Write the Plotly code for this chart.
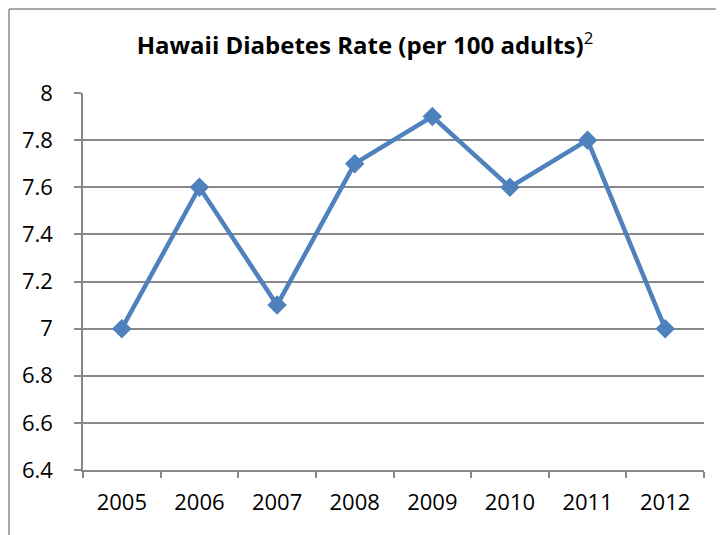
import plotly.graph_objects as go

years = ["2005", "2006", "2007", "2008", "2009", "2010", "2011", "2012"]
rates = [7.0, 7.6, 7.1, 7.7, 7.9, 7.6, 7.8, 7.0]
y_ticks = [6.4, 6.6, 6.8, 7.0, 7.2, 7.4, 7.6, 7.8, 8.0]
y_tick_labels = ["6.4", "6.6", "6.8", "7", "7.2", "7.4", "7.6", "7.8", "8"]

# page body has an 8px margin; compensate so the screenshot matches
OFF = 8
W, H = 724 - OFF, 535 - OFF
L, R, T, B = 83 - OFF, 20, 93 - OFF, 65
pw, ph = W - L - R, H - T - B

def px_x(x):
    return (x - OFF - L) / pw

def px_y(y):
    return (H - B - (y - OFF)) / ph

FONT = "Open Sans, Liberation Sans, Arial, sans-serif"
BLUE = "#4F81BD"
GRID = "#888888"

fig = go.Figure()
fig.add_trace(go.Scatter(
    x=years, y=rates, mode="lines+markers",
    line=dict(color=BLUE, width=4.5),
    marker=dict(symbol="diamond", size=15, color=BLUE),
    showlegend=False, hoverinfo="x+y",
))

fig.update_layout(
    width=W, height=H,
    margin=dict(l=L, r=R, t=T, b=B),
    paper_bgcolor="white", plot_bgcolor="white",
    font=dict(family=FONT, size=22, color="black"),
    title=dict(
        text="<b>Hawaii Diabetes Rate (per 100 adults)</b><sup>2</sup>",
        x=(365 - OFF) / W, xanchor="center", y=1 - (46 - OFF) / H, yanchor="middle",
        font=dict(family=FONT, size=24, color="black"),
    ),
    xaxis=dict(
        type="category", range=[-0.5, 7.5], tickson="boundaries",
        ticks="outside", ticklen=6, tickcolor=GRID, tickwidth=1.5,
        showline=True, linecolor=GRID, linewidth=1.5,
        showgrid=False, zeroline=False, ticklabelstandoff=12,
        tickfont=dict(size=22),
    ),
    yaxis=dict(
        range=[6.4, 8.0], tickvals=y_ticks, ticktext=y_tick_labels,
        ticks="outside", ticklen=7, tickcolor=GRID, tickwidth=1.5,
        showline=True, linecolor=GRID, linewidth=1.5,
        showgrid=True, gridcolor=GRID, gridwidth=1.5,
        zeroline=False, ticklabelstandoff=17,
        tickfont=dict(size=22),
    ),
    shapes=[
        dict(type="line", xref="paper", yref="paper",
             x0=px_x(9), x1=px_x(9), y0=px_y(H + 20), y1=px_y(9),
             line=dict(color="#8C8C8C", width=1.5)),
        dict(type="line", xref="paper", yref="paper",
             x0=px_x(9), x1=px_x(W + 20), y0=px_y(9), y1=px_y(9),
             line=dict(color="#8C8C8C", width=1.5)),
    ],
)

fig.write_html("out.html")
